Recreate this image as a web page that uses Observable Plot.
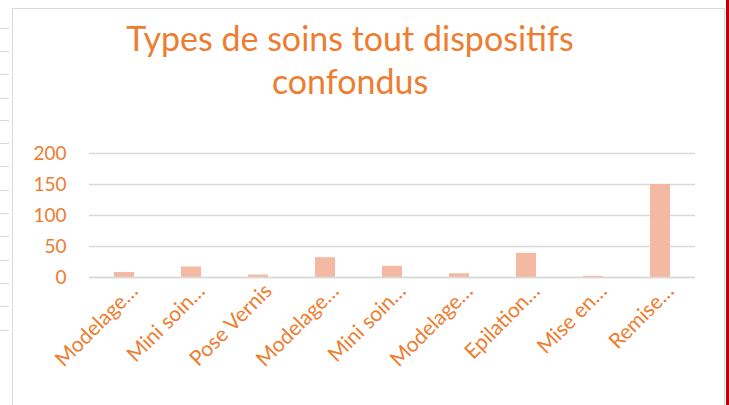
<!DOCTYPE html>
<html>
<head>
<meta charset="utf-8">
<script src="https://cdn.jsdelivr.net/npm/d3@7"></script>
<script src="https://cdn.jsdelivr.net/npm/@observablehq/plot@0.6"></script>
<style>
  html, body { margin: 0; padding: 0; background: #fff; }
  body { width: 729px; height: 405px; position: relative; overflow: hidden; font-family: Lato, "Open Sans", sans-serif; }
  #frame { position: absolute; left: 12px; top: 8px; width: 713px; height: 405px; border: 1.5px solid #d9d9d9; box-sizing: border-box; }
  #redline { position: absolute; left: 726px; top: 0; width: 3px; height: 405px; background: #c00000; }
  #title { position: absolute; left: 50px; width: 600px; top: 16px; text-align: center; color: #ED7D31; font-size: 34px; line-height: 43px; }
  #chart { position: absolute; left: 0; top: 0; }
  .rowmark { position: absolute; left: 0; width: 9px; height: 1px; background: #d9d9d9; }
</style>
</head>
<body>
<div id="frame"></div>
<div id="redline"></div>
<div id="marks"></div>
<div id="title">Types de soins tout dispositifs<br>confondus</div>
<div id="chart"></div>
<script>
const categories = ["Modelage…", "Mini soin…", "Pose Vernis", "Modelage…", "Mini soin…", "Modelage…", "Epilation…", "Mise en…", "Remise…"];
const values = [8, 17, 4, 32, 18, 6, 39, 2, 150];
const yTicks = [0, 50, 100, 150, 200];

const data = categories.map((c, i) => ({ key: i, label: c, value: values[i] }));

const rowY = [28, 51, 74, 98, 120, 143, 166, 190, 213, 236, 260, 283, 306, 330];
const marks = document.getElementById("marks");
rowY.forEach(y => { const d = document.createElement("div"); d.className = "rowmark"; d.style.top = y + "px"; marks.appendChild(d); });

const plot = Plot.plot({
  width: 729,
  height: 405,
  marginLeft: 89,
  marginRight: 34,
  marginTop: 153,
  marginBottom: 128,
  style: { background: "transparent", fontFamily: "Lato, 'Open Sans', sans-serif", fontSize: "19px", color: "#ED7D31" },
  x: { type: "band", domain: data.map(d => d.key), paddingInner: 0.7, paddingOuter: 0.35, label: null },
  y: { domain: [0, 200], label: null },
  marks: [
    Plot.ruleY(yTicks, { stroke: "#d9d9d9", strokeWidth: 1.5 }),
    Plot.barY(data, { x: "key", y: "value", fill: "#F4B9A3" }),
    Plot.ruleY([0], { stroke: "#d9d9d9", strokeWidth: 1.5 }),
    Plot.axisY({ ticks: yTicks, tickSize: 0, tickPadding: 23, label: null, fill: "#ED7D31", fontSize: 19 }),
    Plot.axisX({ tickSize: 0, tickPadding: 10, dx: 10, tickRotate: -45, label: null, fill: "#ED7D31", fontSize: 21, tickFormat: i => categories[i] })
  ]
});
document.getElementById("chart").appendChild(plot);
</script>
</body>
</html>
